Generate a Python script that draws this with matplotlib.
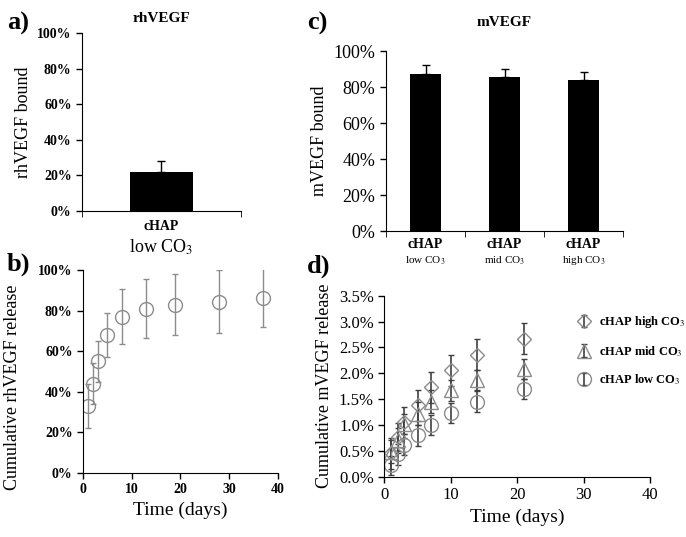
import numpy as np
import matplotlib.pyplot as plt
from matplotlib.ticker import FuncFormatter, FixedLocator

plt.rcParams['font.family'] = ['Liberation Serif', 'DejaVu Serif']
plt.rcParams['mathtext.fontset'] = 'stix'

# a) rhVEGF binding
a_vals = [22]
a_err = [6]

# c) mVEGF binding
c_vals = [87, 85.5, 84]
c_err = [5, 4.5, 4.5]
c_names = ["low", "mid", "high"]

# b) cumulative rhVEGF release
b_days = [1, 2, 3, 5, 8, 13, 19, 28, 37]
b_rel = [33, 44, 55, 68, 77, 81, 83, 84.5, 86.5]
b_err = [11, 10, 10, 11, 13.5, 14.5, 15, 15.5, 14.5]

# d) cumulative mVEGF release
d_days = [1, 2, 3, 5, 7, 10, 14, 21]
d_high = [0.45, 0.76, 1.05, 1.38, 1.73, 2.06, 2.36, 2.67]
d_high_err = [0.30, 0.27, 0.30, 0.30, 0.30, 0.30, 0.30, 0.30]
d_mid = [0.48, 0.70, 1.02, 1.22, 1.45, 1.67, 1.87, 2.08]
d_mid_err = [0.22, 0.25, 0.20, 0.22, 0.22, 0.20, 0.20, 0.20]
d_low = [0.22, 0.43, 0.62, 0.80, 1.00, 1.23, 1.45, 1.69]
d_low_err = [0.18, 0.20, 0.20, 0.20, 0.20, 0.20, 0.20, 0.19]

fig = plt.figure(figsize=(6.86, 5.37), dpi=100)
pct = FuncFormatter(lambda v, p: "%d%%" % v)


def style(ax):
    for s in ["top", "right"]:
        ax.spines[s].set_visible(False)
    ax.tick_params(direction="out", length=4, width=1)


# ---- a)
ax = fig.add_axes([0.1195, 0.6071, 0.2318, 0.3315])
style(ax)
ax.bar([0], a_vals, width=0.4, color="black")
ax.errorbar([0], a_vals, yerr=[[0], a_err], fmt="none", ecolor="black", capsize=3, elinewidth=1)
ax.set_xlim(-0.5, 0.5)
ax.set_ylim(0, 100)
ax.set_yticks(np.arange(0, 101, 20))
ax.yaxis.set_major_formatter(pct)
for t in ax.get_yticklabels():
    t.set_fontweight("bold")
    t.set_fontsize(10)
ax.set_xticks([0])
ax.set_xticklabels([""])
ax.tick_params(axis="x", which="major", length=0)
ax.xaxis.set_minor_locator(FixedLocator([-0.5, 0.5]))
ax.tick_params(axis="x", which="minor", length=4)
ax.text(0, -5, "cHAP", transform=ax.transData, ha="center", va="top", fontsize=10, fontweight="bold")
ax.text(0, -15, "low CO$_3$", transform=ax.transData, ha="center", va="top", fontsize=13)
ax.set_ylabel("rhVEGF bound", fontsize=13)
ax.set_title("rhVEGF", fontsize=11, fontweight="bold", pad=8)
fig.text(0.010, 0.944, "a)", fontsize=19, fontweight="bold")

# ---- c)
ax = fig.add_axes([0.5627, 0.5698, 0.3455, 0.3352])
style(ax)
xc = np.arange(len(c_vals))
ax.bar(xc, c_vals, width=0.4, color="black")
ax.errorbar(xc, c_vals, yerr=[[0] * 3, c_err], fmt="none", ecolor="black", capsize=3, elinewidth=1)
ax.set_xlim(-0.5, 2.5)
ax.set_ylim(0, 100)
ax.set_yticks(np.arange(0, 101, 20))
ax.yaxis.set_major_formatter(pct)
ax.tick_params(axis="y", labelsize=13)
ax.set_xticks(xc)
ax.set_xticklabels([""] * 3)
ax.tick_params(axis="x", which="major", length=0)
ax.xaxis.set_minor_locator(FixedLocator([-0.5, 0.5, 1.5, 2.5]))
ax.tick_params(axis="x", which="minor", length=4)
for i, n in enumerate(c_names):
    ax.text(i, -4, "cHAP", ha="center", va="top", fontsize=10, fontweight="bold")
    ax.text(i, -13, n + " CO$_3$", ha="center", va="top", fontsize=8)
ax.set_ylabel("mVEGF bound", fontsize=13)
ax.set_title("mVEGF", fontsize=11, fontweight="bold", pad=18)
fig.text(0.447, 0.944, "c)", fontsize=19, fontweight="bold")

# ---- b)
ax = fig.add_axes([0.121, 0.1197, 0.2838, 0.3771])
style(ax)
ax.errorbar(b_days, b_rel, yerr=b_err, fmt="o", mfc="none", mec="#8c8c8c", ms=10,
            ecolor="#8c8c8c", elinewidth=1, capsize=2, mew=1)
ax.set_xlim(0, 40)
ax.set_ylim(0, 100)
ax.set_yticks(np.arange(0, 101, 20))
ax.set_xticks(np.arange(0, 41, 10))
ax.yaxis.set_major_formatter(pct)
for t in ax.get_yticklabels() + ax.get_xticklabels():
    t.set_fontweight("bold")
    t.set_fontsize(10)
ax.set_ylabel("Cumulative rhVEGF release", fontsize=13)
ax.yaxis.set_label_coords(-0.32, 0.42)
ax.set_xlabel("Time (days)", fontsize=14)
fig.text(0.010, 0.497, "b)", fontsize=19, fontweight="bold")

# ---- d)
ax = fig.add_axes([0.5602, 0.1123, 0.3873, 0.3371])
style(ax)
kw = dict(mfc="none", mec="#8c8c8c", ms=10, ecolor="#404040", elinewidth=1.2, capsize=2, mew=1, ls="none")
h1 = ax.errorbar(d_days, d_high, yerr=d_high_err, fmt="D", **dict(kw, ms=7))
h2 = ax.errorbar(d_days, d_mid, yerr=d_mid_err, fmt="^", **kw)
h3 = ax.errorbar(d_days, d_low, yerr=d_low_err, fmt="o", **kw)
ax.set_xlim(0, 40)
ax.set_ylim(0, 3.5)
ax.set_yticks(np.arange(0, 3.51, 0.5))
ax.set_xticks(np.arange(0, 41, 10))
ax.yaxis.set_major_formatter(FuncFormatter(lambda v, p: "%.1f%%" % v))
ax.tick_params(axis="both", labelsize=12)
ax.set_xlabel("Time (days)", fontsize=14)
ax.set_ylabel("Cumulative mVEGF release", fontsize=13)
ax.legend([h1, h2, h3], ["cHAP high CO$_3$", "cHAP mid CO$_3$", "cHAP low CO$_3$"],
          loc="upper left", bbox_to_anchor=(0.68, 0.96), frameon=False,
          prop={"size": 9, "weight": "bold"}, handlelength=1.2, labelspacing=1.1,
          handletextpad=0.6)
fig.text(0.447, 0.493, "d)", fontsize=19, fontweight="bold")

fig.savefig("out.png", dpi=100)
